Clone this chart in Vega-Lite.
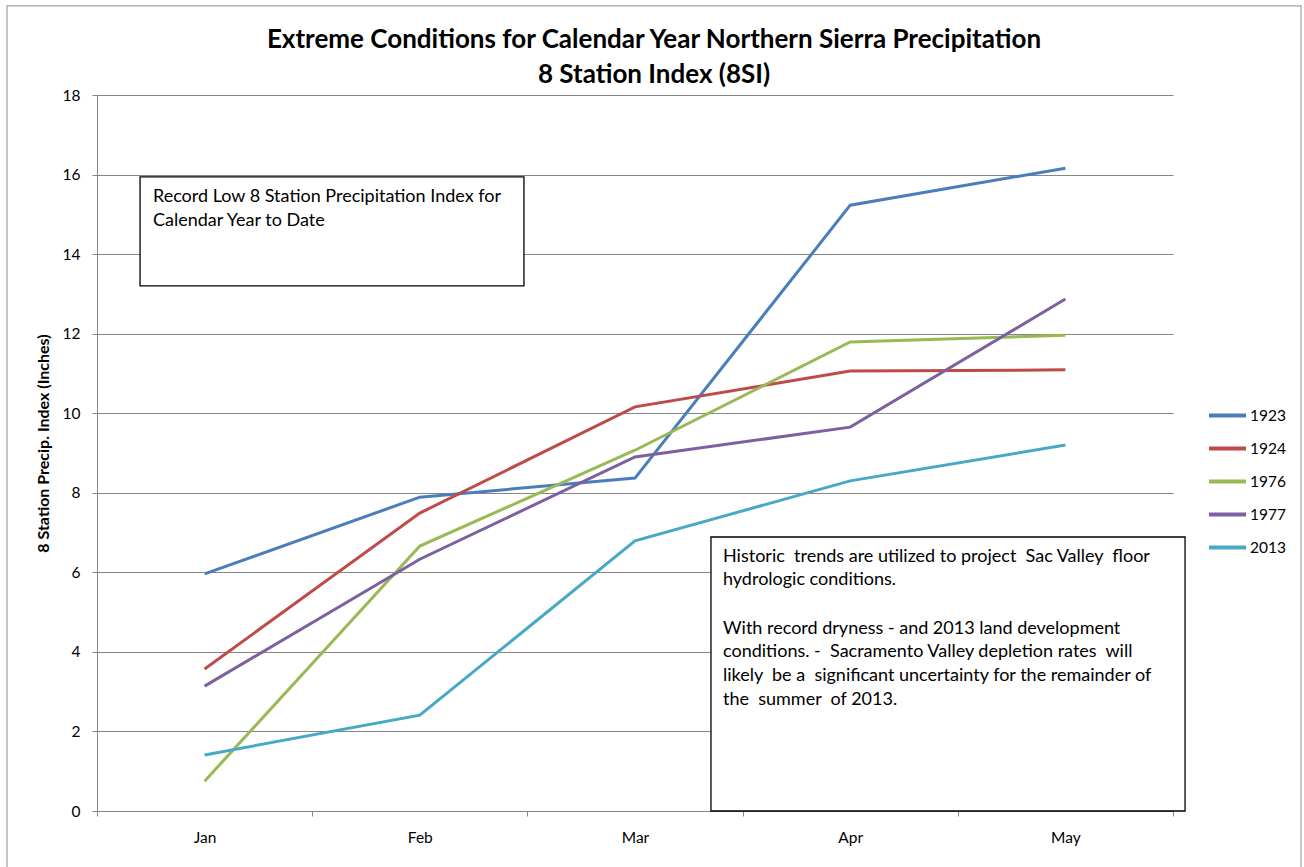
{
  "$schema": "https://vega.github.io/schema/vega-lite/v6.json",
  "width": 1076,
  "height": 716,
  "autosize": "none",
  "padding": {"left": 97, "top": 95, "right": 131, "bottom": 56},
  "background": "white",
  "config": {
    "view": {"stroke": null},
    "font": "Lato",
    "axis": {"labelFont": "Lato", "titleFont": "Lato"},
    "legend": {"labelFont": "Lato"}
  },
  "title": {
    "text": ["Extreme Conditions for Calendar Year Northern Sierra Precipitation", "8 Station Index (8SI)"],
    "fontSize": 26,
    "fontWeight": "bold",
    "font": "Lato",
    "color": "#000000",
    "lineHeight": 35,
    "anchor": "middle",
    "dx": 19,
    "offset": -83
  },
  "datasets": {
    "series": [
      {"month": "Jan", "year": "1923", "value": 5.96},
      {"month": "Feb", "year": "1923", "value": 7.89},
      {"month": "Mar", "year": "1923", "value": 8.37},
      {"month": "Apr", "year": "1923", "value": 15.23},
      {"month": "May", "year": "1923", "value": 16.16},
      {"month": "Jan", "year": "1924", "value": 3.57},
      {"month": "Feb", "year": "1924", "value": 7.49},
      {"month": "Mar", "year": "1924", "value": 10.16},
      {"month": "Apr", "year": "1924", "value": 11.06},
      {"month": "May", "year": "1924", "value": 11.09},
      {"month": "Jan", "year": "1976", "value": 0.75},
      {"month": "Feb", "year": "1976", "value": 6.66},
      {"month": "Mar", "year": "1976", "value": 9.07},
      {"month": "Apr", "year": "1976", "value": 11.79},
      {"month": "May", "year": "1976", "value": 11.96},
      {"month": "Jan", "year": "1977", "value": 3.14},
      {"month": "Feb", "year": "1977", "value": 6.33},
      {"month": "Mar", "year": "1977", "value": 8.9},
      {"month": "Apr", "year": "1977", "value": 9.65},
      {"month": "May", "year": "1977", "value": 12.87},
      {"month": "Jan", "year": "2013", "value": 1.41},
      {"month": "Feb", "year": "2013", "value": 2.41},
      {"month": "Mar", "year": "2013", "value": 6.79},
      {"month": "Apr", "year": "2013", "value": 8.3},
      {"month": "May", "year": "2013", "value": 9.2}
    ],
    "frame": [
      {"x1": -0.418, "x2": 5.595, "y1": 20.24, "y2": -1.8}
    ],
    "boxes": [
      {"x1": 0.2, "x2": 1.984, "y1": 15.94, "y2": 13.2},
      {"x1": 2.853, "x2": 5.056, "y1": 6.888, "y2": 0}
    ],
    "notes": [
      {"x": 0.26, "y": 15.435, "t": "Record Low 8 Station Precipitation Index for"},
      {"x": 0.26, "y": 14.832, "t": "Calendar Year to Date"},
      {"x": 2.909, "y": 6.385, "t": "Historic\u00a0 trends are utilized to project\u00a0 Sac Valley\u00a0 floor"},
      {"x": 2.909, "y": 5.807, "t": "hydrologic conditions."},
      {"x": 2.909, "y": 4.575, "t": "With record dryness - and 2013 land development"},
      {"x": 2.909, "y": 3.997, "t": "conditions. -\u00a0 Sacramento Valley depletion rates\u00a0 will"},
      {"x": 2.909, "y": 3.394, "t": "likely\u00a0 be a\u00a0 significant uncertainty for the remainder of"},
      {"x": 2.909, "y": 2.79, "t": "the\u00a0 summer\u00a0 of 2013."}
    ]
  },
  "layer": [
    {
      "data": {"name": "series"},
      "mark": {"type": "line", "strokeWidth": 3, "clip": false},
      "encoding": {
        "x": {
          "field": "month",
          "type": "ordinal",
          "sort": ["Jan", "Feb", "Mar", "Apr", "May"],
          "scale": {"type": "band", "paddingInner": 0, "paddingOuter": 0},
          "axis": {
            "title": null,
            "labelAngle": 0,
            "labelFontSize": 15.5,
            "labelColor": "#000000",
            "labelPadding": 14,
            "tickBand": "extent",
            "ticks": true,
            "tickSize": 5,
            "tickColor": "#868686",
            "domainColor": "#868686",
            "domainWidth": 1,
            "grid": false
          }
        },
        "y": {
          "field": "value",
          "type": "quantitative",
          "scale": {"domain": [0, 18], "nice": false, "zero": true},
          "axis": {
            "title": "8 Station Precip. Index (Inches)",
            "titleFontSize": 16,
            "titleFontWeight": "bold",
            "titleColor": "#000000",
            "titlePadding": 11,
            "titleY": 348,
            "values": [0, 2, 4, 6, 8, 10, 12, 14, 16, 18],
            "labelFontSize": 15.5,
            "labelColor": "#000000",
            "labelPadding": 12,
            "tickSize": 5,
            "tickColor": "#868686",
            "domainColor": "#868686",
            "grid": true,
            "gridColor": "#868686",
            "gridWidth": 1
          }
        },
        "color": {
          "field": "year",
          "type": "nominal",
          "scale": {
            "domain": ["1923", "1924", "1976", "1977", "2013"],
            "range": ["#4a7ebb", "#be4b48", "#98b954", "#7d60a0", "#46aac5"]
          },
          "legend": {
            "title": null,
            "orient": "none",
            "legendX": 1110,
            "legendY": 300,
            "symbolType": "stroke",
            "symbolSize": 1369,
            "symbolStrokeWidth": 4,
            "labelFontSize": 15.5,
            "labelColor": "#000000",
            "labelOffset": 2,
            "rowPadding": 4
          }
        }
      }
    },
    {
      "layer": [
        {
          "data": {"name": "frame"},
          "mark": {"type": "rect", "fill": null, "stroke": "#a0a0a0", "strokeWidth": 1.2, "clip": false},
          "encoding": {
            "x": {"field": "x1", "type": "quantitative", "scale": {"domain": [0, 5], "nice": false, "zero": false}, "axis": null},
            "x2": {"field": "x2"},
            "y": {"field": "y1", "type": "quantitative", "axis": null},
            "y2": {"field": "y2"}
          }
        },
        {
          "data": {"name": "boxes"},
          "mark": {"type": "rect", "fill": "white", "stroke": "#000000", "strokeWidth": 1.3, "clip": false},
          "encoding": {
            "x": {"field": "x1", "type": "quantitative", "scale": {"domain": [0, 5], "nice": false, "zero": false}, "axis": null},
            "x2": {"field": "x2"},
            "y": {"field": "y1", "type": "quantitative", "axis": null},
            "y2": {"field": "y2"}
          }
        },
        {
          "data": {"name": "notes"},
          "mark": {"type": "text", "align": "left", "baseline": "middle", "fontSize": 18, "font": "Lato", "color": "#000000", "clip": false},
          "encoding": {
            "x": {"field": "x", "type": "quantitative", "scale": {"domain": [0, 5], "nice": false, "zero": false}, "axis": null},
            "y": {"field": "y", "type": "quantitative", "axis": null},
            "text": {"field": "t"}
          }
        }
      ]
    }
  ],
  "resolve": {"scale": {"x": "independent"}, "axis": {"x": "independent", "y": "independent"}}
}
